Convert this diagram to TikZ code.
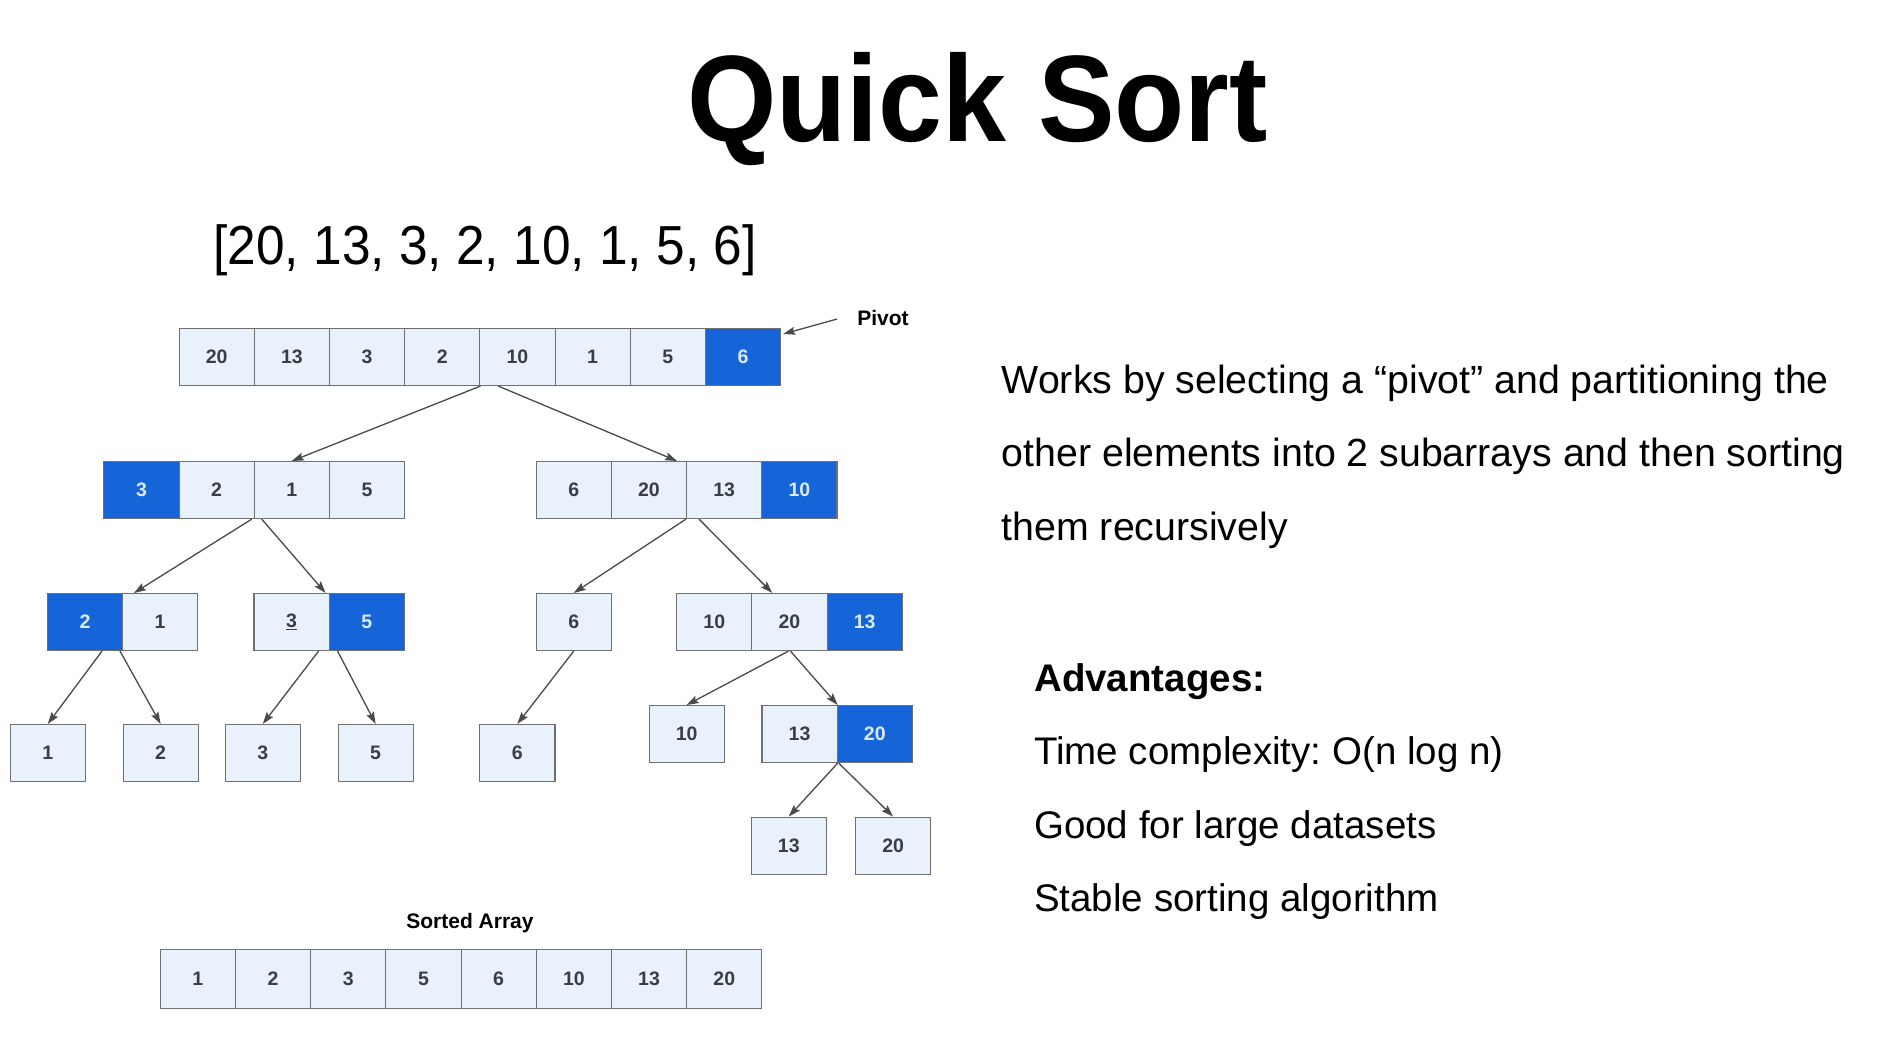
\documentclass[tikz,border=0pt]{standalone}
\usepackage{fontspec}
\usepackage{graphicx}
\setmainfont{Liberation Sans}
\usetikzlibrary{calc,arrows.meta}
\frenchspacing

\definecolor{cellfill}{HTML}{E8F1FC}
\definecolor{cellborder}{HTML}{707070}
\definecolor{celltext}{HTML}{3A3E44}
\definecolor{pivotblue}{HTML}{1565D8}
\definecolor{pivottext}{HTML}{DCEAFF}
\definecolor{edgegray}{HTML}{4A4A4A}

\begin{document}
\begin{tikzpicture}[x=1pt,y=-1pt,
  cell/.style={draw=cellborder, line width=1.1pt, fill=cellfill,
    minimum width=75.2pt, minimum height=57pt, inner sep=0pt,
    anchor=north west, text=celltext,
    font=\fontsize{19.5}{19.5}\selectfont\bfseries},
  pivotcell/.style={cell, fill=pivotblue, text=pivottext},
  edge/.style={draw=edgegray, line width=1.3pt,
    -{Stealth[length=12pt,width=8pt,inset=2pt]}},
  bodytext/.style={anchor=base west, inner sep=0pt,
    font=\fontsize{39.3}{39.3}\selectfont},
  listtext/.style={bodytext, font=\fontsize{38.5}{38.5}\selectfont},
  smalllabel/.style={inner sep=0pt, font=\fontsize{21}{21}\selectfont\bfseries}
]
\fill[white] (0,0) rectangle (1883,1048);
\useasboundingbox (0,0) rectangle (1883,1048);

% headings
\node[anchor=base, inner sep=0pt, font=\fontsize{123}{123}\selectfont\bfseries]
  (title) at (977.5,141.7) {\scalebox{0.934}[1]{Quick Sort}};
\node[anchor=base, inner sep=0pt, font=\fontsize{55}{55}\selectfont]
  (input) at (485,265) {\scalebox{0.935}[1]{[20, 13, 3, 2, 10, 1, 5, 6]}};

% input array
\node[cell] (t1) at (178.5,328) {20};
\node[cell] (t2) at (253.7,328) {13};
\node[cell] (t3) at (328.9,328) {3};
\node[cell] (t4) at (404.1,328) {2};
\node[cell] (t5) at (479.3,328) {10};
\node[cell] (t6) at (554.5,328) {1};
\node[cell] (t7) at (629.7,328) {5};
\node[pivotcell] (t8) at (704.9,328) {6};

\node[smalllabel] (pivotlbl) at (883,318) {Pivot};

% first partition
\node[pivotcell] (a1) at (103.3,461) {3};
\node[cell] (a2) at (178.5,461) {2};
\node[cell] (a3) at (253.7,461) {1};
\node[cell] (a4) at (328.9,461) {5};

\node[cell] (b1) at (535.6,461) {6};
\node[cell] (b2) at (610.8,461) {20};
\node[cell] (b3) at (686.0,461) {13};
\node[pivotcell] (b4) at (761.2,461) {10};

% second partition
\node[pivotcell] (c1) at (46.8,593) {2};
\node[cell] (c2) at (122.0,593) {1};

\node[cell] (d1) at (253.4,593) {\underline{3}};
\node[pivotcell] (d2) at (328.6,593) {5};

\node[cell] (e1) at (535.6,593) {6};

\node[cell] (f1) at (676.1,593) {10};
\node[cell] (f2) at (751.3,593) {20};
\node[pivotcell] (f3) at (826.5,593) {13};

% single elements
\node[cell] (g1) at (9.6,724) {1};
\node[cell] (g2) at (122.5,724) {2};
\node[cell] (g3) at (224.6,724) {3};
\node[cell] (g4) at (337.5,724) {5};
\node[cell] (g5) at (479.2,724) {6};

\node[cell] (h1) at (648.5,705) {10};
\node[cell] (h2) at (761.4,705) {13};
\node[pivotcell] (h3) at (836.6,705) {20};

\node[cell] (k1) at (750.6,816.6) {13};
\node[cell] (k2) at (855.0,816.6) {20};

% result
\node[smalllabel] (sortedlbl) at (470,923.5) {Sorted Array};
\node[cell, minimum height=59pt] (s1) at (159.7,949) {1};
\node[cell, minimum height=59pt] (s2) at (234.9,949) {2};
\node[cell, minimum height=59pt] (s3) at (310.1,949) {3};
\node[cell, minimum height=59pt] (s4) at (385.3,949) {5};
\node[cell, minimum height=59pt] (s5) at (460.5,949) {6};
\node[cell, minimum height=59pt] (s6) at (535.7,949) {10};
\node[cell, minimum height=59pt] (s7) at (610.9,949) {13};
\node[cell, minimum height=59pt] (s8) at (686.1,949) {20};

% connectors
\draw[edge] ($(pivotlbl.west)+(-20,1)$) -- ($(t8.north east)+(2,6)$);

\draw[edge] (t4.south east) -- (a3.north);
\draw[edge] ($(t5.south west)+(19,0)$) -- ($(b3.north west)+(-9,0)$);

\draw[edge] ($(a2.south east)+(-3,0)$) -- ($(c2.north west)+(12,0)$);
\draw[edge] ($(a3.south west)+(8,0)$) -- ($(d2.north west)+(-3,0)$);
\draw[edge] (b3.south west) -- (e1.north);
\draw[edge] ($(b3.south west)+(13,0)$) -- ($(f2.north west)+(21,0)$);

\draw[edge] ($(c2.south west)+(-20,0)$) -- (g1.north);
\draw[edge] ($(c2.south west)+(-2,0)$) -- (g2.north);
\draw[edge] ($(d2.south west)+(-10,0)$) -- (g3.north);
\draw[edge] ($(d2.south west)+(9,0)$) -- (g4.north);
\draw[edge] (e1.south) -- (g5.north);
\draw[edge] ($(f2.south)+(-1,0)$) -- (h1.north);
\draw[edge] ($(f2.south)+(1,0)$) -- (h2.north east);
\draw[edge] (h2.south east) -- (k1.north);
\draw[edge] ($(h2.south east)+(1,0)$) -- (k2.north);

% description
\node[bodytext] (p1) at (1001.5,394) {Works by selecting a “pivot” and partitioning the};
\node[bodytext] (p2) at (1001.5,467) {other elements into 2 subarrays and then sorting};
\node[bodytext] (p3) at (1001.5,540) {them recursively};

\node[listtext, font=\fontsize{38.5}{38.5}\selectfont\bfseries] (adv) at (1034,691) {Advantages:};
\node[listtext] (adv1) at (1034,764) {Time complexity: O(n log n)};
\node[listtext] (adv2) at (1034,838) {Good for large datasets};
\node[listtext] (adv3) at (1034,911) {Stable sorting algorithm};
\end{tikzpicture}
\end{document}
